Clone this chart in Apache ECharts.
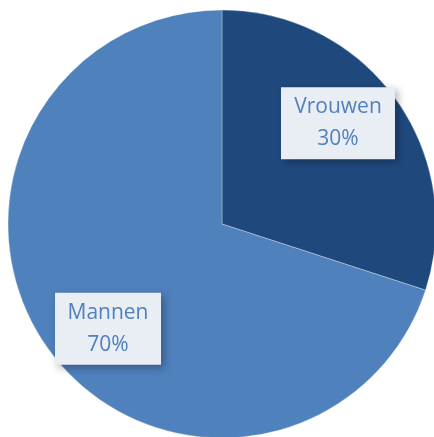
<!DOCTYPE html>
<html>
<head>
<meta charset="utf-8">
<script src="https://cdn.jsdelivr.net/npm/echarts@6/dist/echarts.min.js"></script>
<style>
  html, body { margin: 0; padding: 0; background: #fff; }
  #pie { width: 434px; height: 437px; }
</style>
</head>
<body>
<div id="pie"></div>
<script>
// gegevens
var categories = ["Vrouwen", "Mannen"];
var values = [30, 70];
var colors = ["#1F497D", "#4F81BD"];
// label verschuiving t.o.v. 'inside' positie
var labelOffsets = [[27, -36], [-25, 40]];
var labelWidths = [94, 86];

var data = categories.map(function (name, i) {
  return {
    name: name,
    value: values[i],
    itemStyle: { color: colors[i] },
    label: { offset: labelOffsets[i], width: labelWidths[i] }
  };
});

var chart = echarts.init(document.getElementById("pie"));
chart.setOption({
  animation: false,
  series: [
    {
      type: "pie",
      center: [222, 224],
      radius: 214,
      startAngle: 90,
      clockwise: true,
      itemStyle: { borderColor: "rgba(255,255,255,0.3)", borderWidth: 1 },
      label: {
        show: true,
        position: "inside",
        formatter: "{b}\n{d}%",
        fontFamily: "Open Sans",
        fontSize: 21,
        lineHeight: 32,
        color: "#4F81BD",
        align: "center",
        backgroundColor: "#E9EDF4",
        padding: [7, 10, 1, 10],
        shadowColor: "rgba(0,0,0,0.3)",
        shadowBlur: 8,
        shadowOffsetX: 3,
        shadowOffsetY: 3
      },
      labelLine: { show: false },
      emphasis: { disabled: true },
      data: data
    }
  ]
});
</script>
</body>
</html>
